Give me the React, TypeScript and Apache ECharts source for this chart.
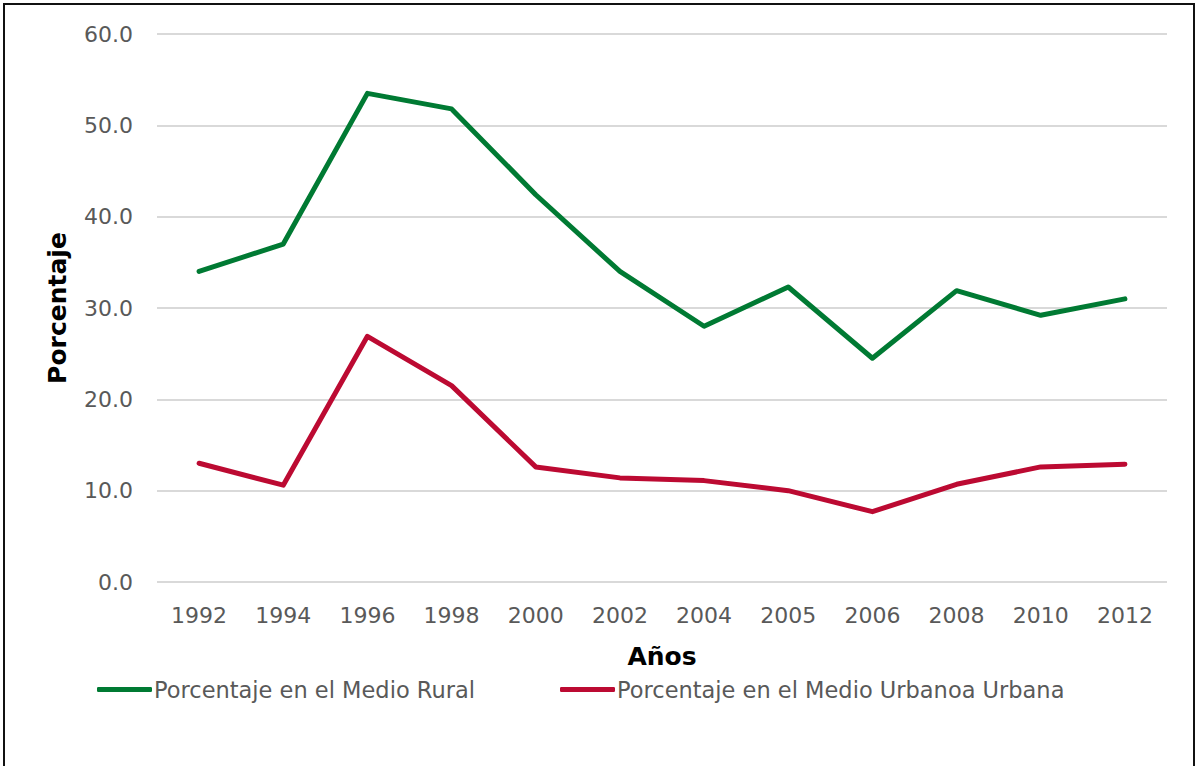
import React, { useEffect, useRef } from "react";
import * as echarts from "echarts";

const years = ["1992", "1994", "1996", "1998", "2000", "2002", "2004", "2005", "2006", "2008", "2010", "2012"];
const rural = [34.0, 37.0, 53.5, 51.8, 42.4, 34.0, 28.0, 32.3, 24.5, 31.9, 29.2, 31.0];
const urbana = [13.0, 10.6, 26.9, 21.5, 12.6, 11.4, 11.1, 10.0, 7.7, 10.7, 12.6, 12.9];
const ruralName = "Porcentaje en el Medio Rural";
const urbanaName = "Porcentaje en el Medio Urbanoa Urbana";

const FONT = "'DejaVu Sans', 'Noto Sans', sans-serif";

export default function App() {
  const ref = useRef<HTMLDivElement>(null);
  useEffect(() => {
    const chart = echarts.init(ref.current!, null, { renderer: "svg" });
    const legendText = { fontFamily: FONT, fontSize: 22.5, color: "#595959", padding: [0, 0, 0, -3] };
    chart.setOption({
      animation: false,
      backgroundColor: "#ffffff",
      graphic: [
        {
          type: "rect",
          shape: { x: 4, y: 4, width: 1190, height: 800 },
          style: { fill: "none", stroke: "#111", lineWidth: 2 },
          silent: true,
        },
      ],
      grid: { left: 157, right: 29, top: 34, bottom: 184, containLabel: false },
      legend: [
        {
          data: [ruralName],
          left: 97,
          top: 678,
          itemWidth: 55,
          itemHeight: 5,
          icon: "roundRect",
          textStyle: legendText,
          padding: 0,
        },
        {
          data: [urbanaName],
          left: 560,
          top: 678,
          itemWidth: 55,
          itemHeight: 5,
          icon: "roundRect",
          textStyle: legendText,
          padding: 0,
        },
      ],
      xAxis: {
        type: "category",
        data: years,
        boundaryGap: true,
        name: "Años",
        nameLocation: "middle",
        nameGap: 62,
        nameTextStyle: { fontFamily: FONT, fontSize: 25, fontWeight: "bold", color: "#000" },
        axisLine: { show: false },
        axisTick: { show: false },
        axisLabel: { fontFamily: FONT, fontSize: 22, color: "#595959", margin: 22 },
      },
      yAxis: {
        type: "value",
        min: 0,
        max: 60,
        interval: 10,
        name: "Porcentaje",
        nameLocation: "middle",
        nameGap: 87,
        nameTextStyle: { fontFamily: FONT, fontSize: 25, fontWeight: "bold", color: "#000" },
        axisLine: { show: false },
        axisTick: { show: false },
        axisLabel: {
          fontFamily: FONT,
          fontSize: 22,
          color: "#595959",
          margin: 24,
          formatter: (v: number) => v.toFixed(1),
        },
        splitLine: { lineStyle: { color: "#d9d9d9", width: 2 } },
      },
      series: [
        {
          name: ruralName,
          type: "line",
          data: rural,
          symbol: "none",
          lineStyle: { color: "#007A33", width: 5, cap: "round", join: "round" },
          itemStyle: { color: "#007A33" },
        },
        {
          name: urbanaName,
          type: "line",
          data: urbana,
          symbol: "none",
          lineStyle: { color: "#BC0A32", width: 5, cap: "round", join: "round" },
          itemStyle: { color: "#BC0A32" },
        },
      ],
    });
    return () => chart.dispose();
  }, []);
  return (
    <div
      ref={ref}
      style={{ position: "fixed", left: 0, top: 0, width: 1196, height: 766 }}
    />
  );
}
